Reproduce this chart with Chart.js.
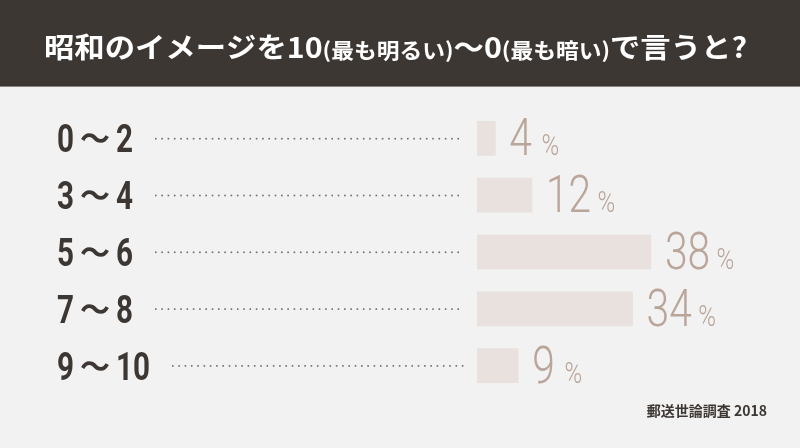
<!DOCTYPE html>
<html>
<head>
<meta charset="utf-8">
<script src="https://cdn.jsdelivr.net/npm/chart.js@4"></script>
<style>
  html, body { margin: 0; padding: 0; background: #f2f2f2; }
  canvas { display: block; }
</style>
</head>
<body>
<canvas id="myChart" width="800" height="448"></canvas>
<script>
const categories = ['0～2', '3～4', '5～6', '7～8', '9～10'];
const shares = [4, 12, 38, 34, 9];
const titleParts = [
  ['昭和のイメージを10', 'big'],
  ['(最も明るい)', 'small'],
  ['～0', 'big'],
  ['(最も暗い)', 'small'],
  ['で言うと?', 'big']
];
const sourceNote = '郵送世論調査 2018';

const dark = '#3d3733';
const tan = '#b9a599';

// background, header band and title
const backdrop = {
  id: 'backdrop',
  beforeDraw(chart) {
    const ctx = chart.ctx;
    ctx.save();
    ctx.fillStyle = '#f2f2f2';
    ctx.fillRect(0, 0, chart.width, chart.height);
    ctx.fillStyle = dark;
    ctx.fillRect(0, 0, chart.width, 86);
    ctx.fillStyle = '#8a8580';
    ctx.fillRect(0, 86, chart.width, 1);

    const fonts = {
      big: 'bold 28px "Noto Sans CJK JP"',
      small: 'bold 21px "Noto Sans CJK JP"'
    };
    let total = 0;
    titleParts.forEach(p => { ctx.font = fonts[p[1]]; total += ctx.measureText(p[0]).width; });
    const sx = 703 / total;
    ctx.translate(44, 0);
    ctx.scale(sx, 1);
    ctx.fillStyle = '#ffffff';
    ctx.textBaseline = 'alphabetic';
    let x = 0;
    titleParts.forEach(p => {
      ctx.font = fonts[p[1]];
      ctx.fillText(p[0], x, 58);
      x += ctx.measureText(p[0]).width;
    });
    ctx.restore();
  }
};

function drawNumber(ctx, txt, x, y) {
  ctx.save();
  ctx.translate(x, y);
  ctx.scale(0.78, 1);
  ctx.fillText(txt, 0, 0);
  const w = ctx.measureText(txt).width * 0.78;
  ctx.restore();
  return w;
}

// row labels, leader dots, value labels, source
const decorations = {
  id: 'decorations',
  afterDatasetsDraw(chart) {
    const ctx = chart.ctx;
    const yScale = chart.scales.y;
    const bars = chart.getDatasetMeta(0).data;
    ctx.save();
    categories.forEach((label, i) => {
      const y = yScale.getPixelForTick(i);
      const parts = label.split('～');
      ctx.fillStyle = dark;
      ctx.textBaseline = 'alphabetic';
      ctx.textAlign = 'left';
      ctx.font = 'bold 38px Roboto';
      drawNumber(ctx, parts[0], 57, y + 14);
      ctx.font = 'bold 30px "Noto Sans CJK JP"';
      ctx.textAlign = 'center';
      ctx.fillText('～', 95, y + 11);
      ctx.textAlign = 'left';
      ctx.font = 'bold 38px Roboto';
      const w2 = drawNumber(ctx, parts[1], 116, y + 14);
      const end = 116 + w2;

      ctx.fillStyle = '#6e6a66';
      for (let dx = end + 22; dx < 463; dx += 6.3) {
        ctx.fillRect(dx, y - 0.5, 1.6, 1.6);
      }

      const bar = bars[i];
      const base = y + 17;
      ctx.save();
      ctx.fillStyle = tan;
      ctx.translate(bar.x + 14, base);
      ctx.scale(0.8, 1);
      ctx.font = '300 51px Roboto';
      const num = String(shares[i]);
      ctx.fillText(num, 0, 0);
      const nw = ctx.measureText(num).width;
      ctx.font = '300 30px Roboto';
      ctx.fillText('%', nw + (num.length === 1 ? 12 : 8), 0);
      ctx.restore();
    });

    ctx.font = 'bold 14px "Noto Sans CJK JP"';
    ctx.fillStyle = dark;
    ctx.textAlign = 'right';
    ctx.fillText(sourceNote, 767, 416);
    ctx.restore();
  }
};

const data = {
  labels: categories,
  datasets: [{
    data: shares,
    backgroundColor: '#e8e1de',
    barThickness: 34,
    borderWidth: 0
  }]
};

const config = {
  type: 'bar',
  data: data,
  options: {
    indexAxis: 'y',
    responsive: false,
    animation: false,
    layout: {
      padding: { left: 477, right: 21, top: 110, bottom: 54 }
    },
    scales: {
      x: { display: false, min: 0, max: 66 },
      y: { display: false }
    },
    plugins: {
      legend: { display: false },
      tooltip: { enabled: false }
    }
  },
  plugins: [backdrop, decorations]
};

const myChart = new Chart(
  document.getElementById('myChart'),
  config
);
</script>
</body>
</html>
